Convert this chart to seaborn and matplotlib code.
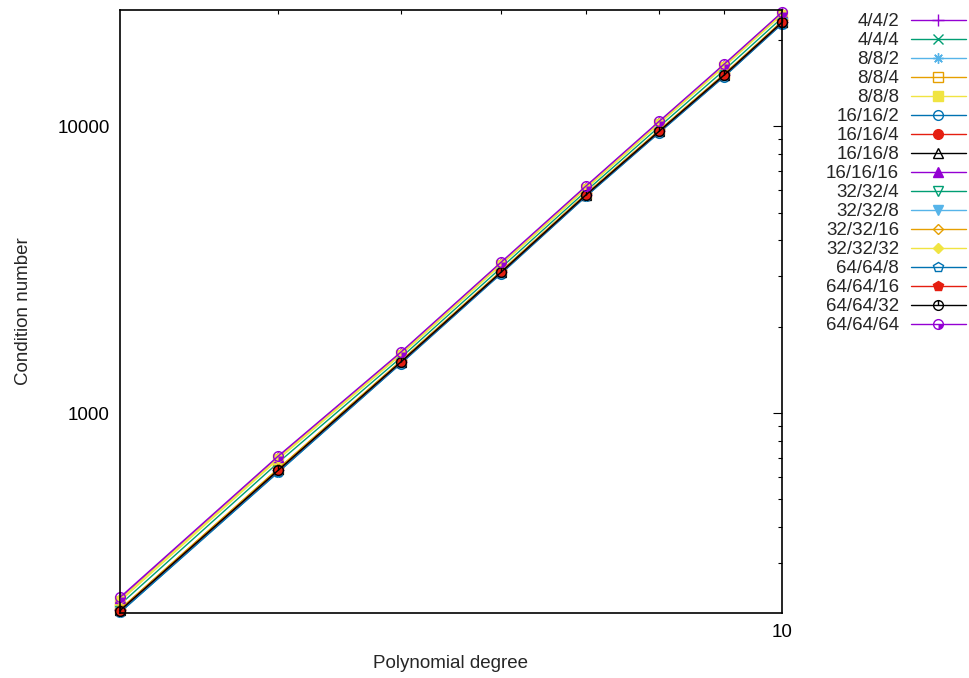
import matplotlib
matplotlib.use("Agg")
import matplotlib.pyplot as plt
from matplotlib.path import Path
from matplotlib.legend_handler import HandlerTuple
from matplotlib.ticker import FixedLocator, NullFormatter, FuncFormatter
import seaborn as sns

# Polynomial degrees on the x axis
degrees = [3, 4, 5, 6, 7, 8, 9, 10]

# Condition number per configuration (block sizes)
labels = ["4/4/2", "4/4/4", "8/8/2", "8/8/4", "8/8/8",
          "16/16/2", "16/16/4", "16/16/8", "16/16/16",
          "32/32/4", "32/32/8", "32/32/16", "32/32/32",
          "64/64/8", "64/64/16", "64/64/32", "64/64/64"]

cond_4_4_2 = [206, 634, 1510, 3104, 5765, 9630, 15090, 23050]
cond_4_4_4 = [215, 672, 1560, 3210, 5930, 9960, 15660, 23850]
cond_8_8_2 = [204, 628, 1500, 3085, 5730, 9570, 14990, 22900]
cond_8_8_4 = [207, 638, 1518, 3120, 5790, 9670, 15150, 23150]
cond_8_8_8 = [221, 690, 1595, 3285, 6050, 10190, 16100, 24450]
cond_16_16_2 = [202, 622, 1488, 3062, 5690, 9500, 14880, 22720]
cond_16_16_4 = [205, 633, 1508, 3100, 5758, 9615, 15070, 23010]
cond_16_16_8 = [206, 636, 1512, 3108, 5770, 9640, 15110, 23080]
cond_16_16_16 = [226, 703, 1620, 3335, 6140, 10340, 16330, 24780]
cond_32_32_4 = [204, 630, 1503, 3092, 5742, 9590, 15030, 22950]
cond_32_32_8 = [203, 625, 1495, 3075, 5712, 9540, 14950, 22830]
cond_32_32_16 = [207, 640, 1520, 3125, 5800, 9690, 15180, 23200]
cond_32_32_32 = [224, 698, 1610, 3315, 6100, 10280, 16240, 24640]
cond_64_64_8 = [202, 623, 1490, 3066, 5696, 9510, 14900, 22750]
cond_64_64_16 = [205, 631, 1505, 3095, 5750, 9600, 15050, 22980]
cond_64_64_32 = [205, 632, 1507, 3098, 5754, 9610, 15060, 23000]
cond_64_64_64 = [228, 708, 1631, 3357, 6180, 10410, 16440, 24950]

series = [cond_4_4_2, cond_4_4_4, cond_8_8_2, cond_8_8_4, cond_8_8_8,
          cond_16_16_2, cond_16_16_4, cond_16_16_8, cond_16_16_16,
          cond_32_32_4, cond_32_32_8, cond_32_32_16, cond_32_32_32,
          cond_64_64_8, cond_64_64_16, cond_64_64_32, cond_64_64_64]

sns.set_style("white")
plt.rcParams["font.family"] = ["Liberation Sans", "DejaVu Sans"]
plt.rcParams["font.size"] = 13.5

palette = ["#9400d3", "#009e73", "#56b4e9", "#e69f00",
           "#f0e442", "#0072b2", "#e51e10", "#000000"]

# circle with a vertical stroke, and circle with a filled quarter
circ = Path.unit_circle()
stroke = Path([[0, 0], [0, 1]], [Path.MOVETO, Path.LINETO])
circle_bar = Path.make_compound_path(circ, stroke)
quarter = Path.wedge(-90, 0)

# (marker, filled, size)
styles = [("+", False, 8), ("x", False, 6.5), ((8, 2, 0), False, 7.5),
          ("s", False, 6.5), ("s", True, 6.5), ("o", False, 7),
          ("o", True, 7), ("^", False, 7), ("^", True, 7),
          ("v", False, 7), ("v", True, 7), ("D", False, 5.5),
          ("D", True, 5.5), ("p", False, 7), ("p", True, 7),
          (circle_bar, False, 7), ("o", False, 7)]

fig = plt.figure(figsize=(9.7, 6.78), dpi=100)
ax = fig.add_axes([120 / 970, 1 - 613 / 678, (782 - 120) / 970, (613 - 10) / 678])

handles = []
for i, (lab, vals) in enumerate(zip(labels, series)):
    col = palette[i % len(palette)]
    mk, filled, ms = styles[i]
    sns.lineplot(x=degrees, y=vals, ax=ax, color=col, lw=1.0, label=lab,
                 marker=mk, markersize=ms, markeredgewidth=1.0,
                 markeredgecolor=col,
                 markerfacecolor=col if filled else "none",
                 clip_on=False, zorder=2 + i * 0.01)
    handles.append(ax.lines[-1])

# filled quarter of the last series' marker
q = ax.plot(degrees, cond_64_64_64, ls="none", marker=quarter, markersize=7,
            color=palette[0], markeredgewidth=0, clip_on=False, zorder=3)[0]
handles[-1] = (handles[-1], q)

ax.set_xscale("log")
ax.set_yscale("log")
ax.set_xlim(3, 10)
ax.set_ylim(201, 25400)

ax.xaxis.set_major_locator(FixedLocator([10]))
ax.xaxis.set_minor_locator(FixedLocator([4, 5, 6, 7, 8, 9]))
ax.xaxis.set_major_formatter(FuncFormatter(lambda v, p: f"{v:g}"))
ax.xaxis.set_minor_formatter(NullFormatter())
ax.yaxis.set_major_locator(FixedLocator([1000, 10000]))
ax.yaxis.set_minor_locator(FixedLocator([200, 300, 400, 500, 600, 700, 800, 900,
                                         2000, 3000, 4000, 5000, 6000, 7000,
                                         8000, 9000, 20000]))
ax.yaxis.set_major_formatter(FuncFormatter(lambda v, p: f"{v:g}"))
ax.yaxis.set_minor_formatter(NullFormatter())

ax.tick_params(which="both", direction="in", top=True, right=True,
               labelsize=13.5, colors="black")
ax.tick_params(axis="y", pad=7.5)
ax.tick_params(axis="x", pad=8)
ax.tick_params(which="major", length=6.5, width=0.8)
ax.tick_params(which="minor", length=3.2, width=0.8)
for s in ax.spines.values():
    s.set_linewidth(1.2)
    s.set_color("black")

ax.set_xlabel("Polynomial degree", fontsize=13.5, labelpad=10)
ax.set_ylabel("Condition number", fontsize=13.5, labelpad=18)

leg = ax.legend(handles, labels, loc="upper left",
                bbox_to_anchor=(826 / 970, 1 - 13 / 678),
                bbox_transform=fig.transFigure,
                markerfirst=False, frameon=False, fontsize=13.5,
                handlelength=2.9, handletextpad=0.65, labelspacing=0.1,
                borderaxespad=0, borderpad=0,
                handler_map={tuple: HandlerTuple(ndivide=1)})

fig.savefig("out.png", dpi=100)
